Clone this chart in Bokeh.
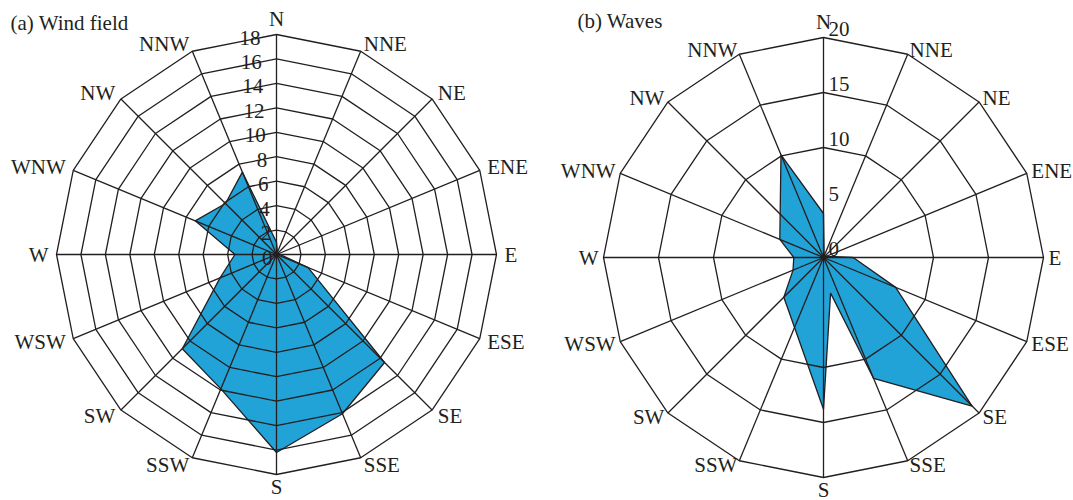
import numpy as np
from bokeh.plotting import figure
from bokeh.layouts import row
from bokeh.models import ColumnDataSource, Label
from bokeh.embed import file_html
from bokeh.resources import INLINE
from bokeh.core.properties import value

# ---------------- data ----------------
directions = ["N", "NNE", "NE", "ENE", "E", "ESE", "SE", "SSE",
              "S", "SSW", "SW", "WSW", "W", "WNW", "NW", "NNW"]
direction_deg = [i * 22.5 for i in range(16)]

# (a) wind field, one value per compass direction
wind_values = [1.0, 0.2, 0.2, 0.2, 0.3, 2.8, 12.5, 14.1,
               16.2, 11.9, 10.9, 5.0, 3.4, 7.2, 5.9, 7.3]
wind_rings = [2, 4, 6, 8, 10, 12, 14, 16, 18]
wind_ticks = [0, 2, 4, 6, 8, 10, 12, 14, 16, 18]

# (b) waves, vertices (direction in degrees, value)
wave_deg = [0, 11.25, 45, 78.75, 90, 112.5, 135, 157.5, 168.75,
            180, 225, 247.5, 270, 292.5, 337.5]
wave_values = [4.0, 0.3, 0.2, 0.5, 2.7, 7.1, 19.1, 11.9, 3.3,
               13.8, 5.1, 3.0, 2.7, 4.3, 10.1]
wave_rings = [10, 15, 20]
wave_ticks = [0, 5, 10, 15, 20]

titles = ["(a) Wind field", "(b) Waves"]

# ---------------- style ----------------
FONT = value("Liberation Serif")
INK = "#231f20"
BLUE = "#22a3d7"
LW = 1.3
FS = "21px"


def polar(r, deg):
    t = np.radians(np.asarray(deg, dtype=float))
    r = np.asarray(r, dtype=float)
    return r * np.sin(t), r * np.cos(t)


def rose(title, dvals_deg, dvals, rings, ticks, width, height, cx, cy, scale,
         tick_mode, title_x, title_y, side_off):
    H = height
    x_range = (-cx / scale, (width - cx) / scale)
    y_range = (-(H - cy) / scale, cy / scale)
    p = figure(width=width, height=H, x_range=x_range, y_range=y_range,
               output_backend="svg", toolbar_location=None, min_border=0,
               tools="")
    p.axis.visible = False
    p.grid.visible = False
    p.outline_line_color = None
    p.background_fill_color = "white"

    rmax = max(rings)
    # data polygon
    px, py = polar(dvals, dvals_deg)
    p.patch(list(px), list(py), fill_color=BLUE, line_color=INK, line_width=LW)

    # rings
    ang = direction_deg + [direction_deg[0]]
    rx, ry = [], []
    for rv in rings:
        x, y = polar([rv] * len(ang), ang)
        rx.append(list(x))
        ry.append(list(y))
    p.multi_line(rx, ry, line_color=INK, line_width=LW)

    # spokes
    sx, sy = polar([rmax] * 16, direction_deg)
    p.segment(x0=[0] * 16, y0=[0] * 16, x1=list(sx), y1=list(sy),
              line_color=INK, line_width=LW)
    p.scatter([0], [0], size=5, color=INK)

    # direction labels
    lx, ly, al = [], [], []
    for d in direction_deg:
        s = np.sin(np.radians(d))
        if abs(s) < 0.2:
            off = (16 if np.cos(np.radians(d)) > 0 else 12) / scale
            al.append("center")
        else:
            off = side_off / scale
            al.append("left" if s > 0 else "right")
        x, y = polar(rmax + off, d)
        lx.append(float(x))
        ly.append(float(y))
    src = ColumnDataSource(dict(x=lx, y=ly, t=directions, a=al))
    p.text("x", "y", text="t", source=src, text_align="a",
           text_baseline="middle", text_font=FONT, text_font_size=FS,
           text_color=INK)

    # value labels along the N axis
    if tick_mode == "left":
        tx = [-(4 + 12 * v / max(ticks)) / scale for v in ticks]
        ty = [v - 3 / scale for v in ticks]
        align = "right"
    else:
        tx = [5 / scale for v in ticks]
        ty = [v + 9 / scale for v in ticks]
        align = "left"
    tsrc = ColumnDataSource(dict(x=tx, y=ty, t=[str(v) for v in ticks]))
    p.text("x", "y", text="t", source=tsrc, text_align=align,
           text_baseline="middle", text_font=FONT, text_font_size=FS,
           text_color=INK)

    p.add_layout(Label(x=title_x, y=H - title_y, x_units="screen",
                       y_units="screen", text=title,
                       text_font="Liberation Serif", text_font_size=FS,
                       text_baseline="middle", text_color=INK))
    return p


p1 = rose(titles[0], direction_deg, wind_values, wind_rings, wind_ticks,
          width=548, height=500, cx=276, cy=254, scale=220 / 18,
          tick_mode="left", title_x=10, title_y=22, side_off=8)
p2 = rose(titles[1], wave_deg, wave_values, wave_rings, wave_ticks,
          width=525, height=500, cx=275, cy=257, scale=11.0,
          tick_mode="right", title_x=29, title_y=20, side_off=5)

layout = row(p1, p2)
open("out.html", "w").write(file_html(layout, INLINE))
